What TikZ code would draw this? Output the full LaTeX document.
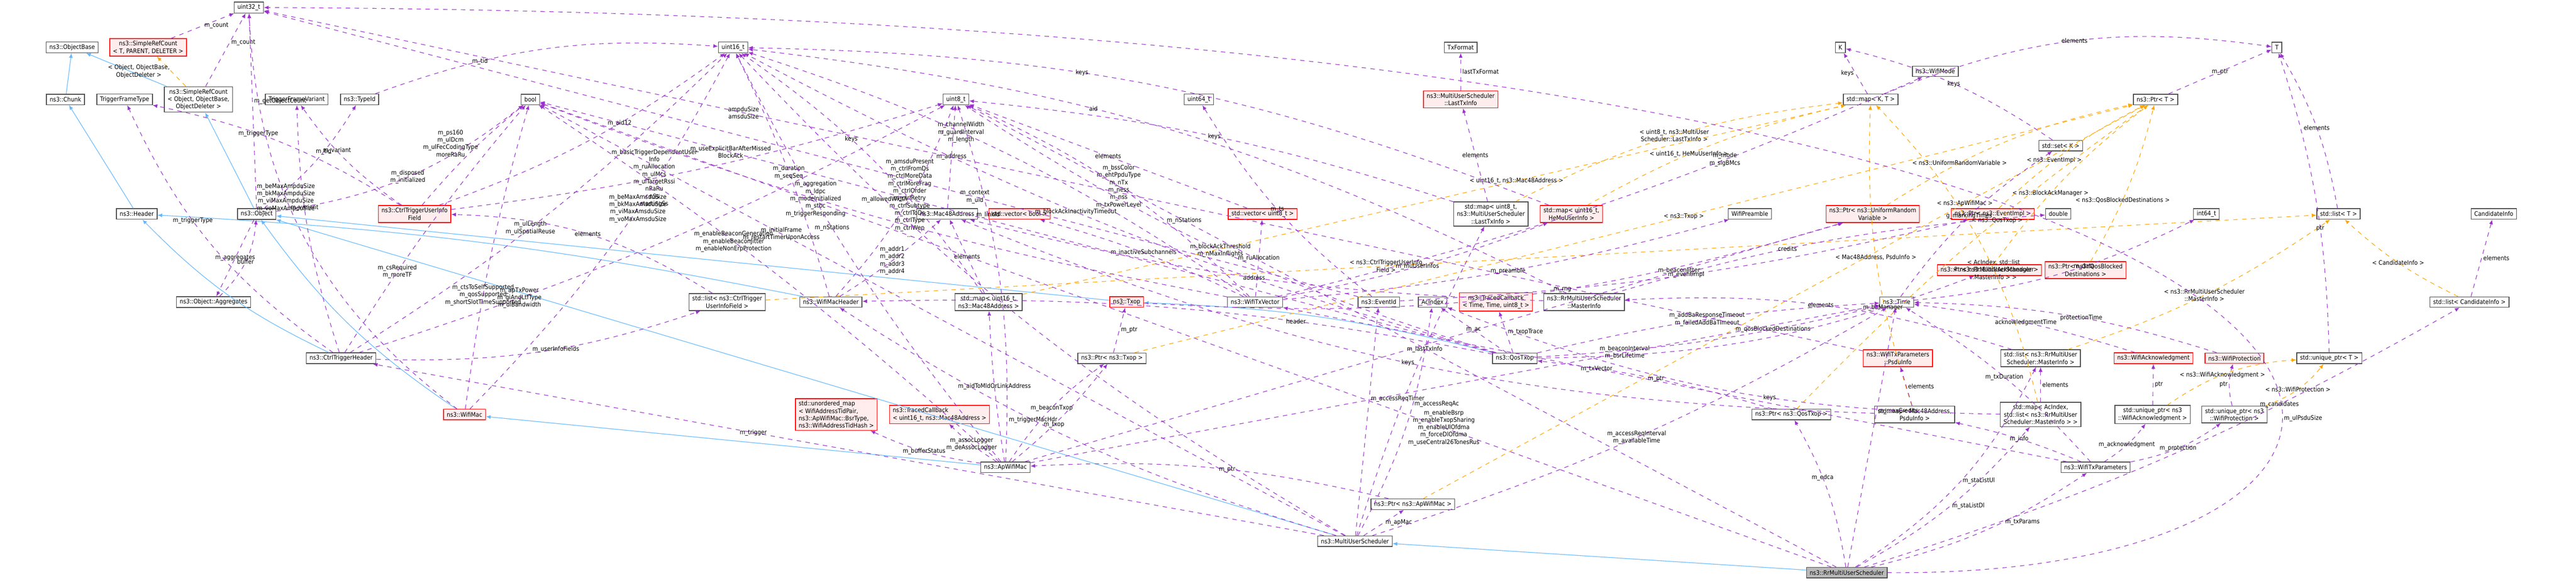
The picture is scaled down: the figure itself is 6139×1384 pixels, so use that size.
\documentclass[tikz,border=0pt]{standalone}
\usepackage{fontspec}
\setmainfont{DejaVu Sans Condensed}
\usetikzlibrary{arrows.meta}
\definecolor{mempurple}{HTML}{9A32CD}
\definecolor{inhblue}{HTML}{63B8FF}
\definecolor{tplorange}{HTML}{FFA500}
\begin{document}
\begin{tikzpicture}[x=0.01cm,y=-0.01cm,
  font=\fontsize{4.2}{5}\selectfont,
  cls/.style={draw=gray!60!black,fill=white,line width=0.5pt,inner xsep=2.2pt,inner ysep=1.6pt,minimum height=0.25cm,align=center},
  redcls/.style={cls,draw=red,fill=red!7},
  focus/.style={cls,fill=gray!55},
  mem/.style={draw=mempurple,dashed,line width=0.4pt,-{Latex[length=3.2pt,width=2.6pt]}},
  inh/.style={draw=inhblue,line width=0.4pt,-{Latex[length=3.2pt,width=2.6pt,open,fill=inhblue]}},
  tpl/.style={draw=tplorange,dashed,line width=0.4pt,-{Latex[length=3.2pt,width=2.6pt]}},
  lbl/.style={fill=none,align=center,inner sep=1pt}]
\useasboundingbox (0,0) rectangle (6139,1384);

% Top rows
\node[cls] (u32) at (593,18) {uint32\_t};
\node[cls] (objbase) at (172,113) {ns3::ObjectBase};
\node[redcls] (srcT) at (353,113) {ns3::SimpleRefCount\\< T, PARENT, DELETER >};
\node[cls] (u16) at (1747,113) {uint16\_t};
\node[cls] (txformat) at (3481,113) {TxFormat};
\node[cls] (K) at (4386,113) {K};
\node[cls] (T) at (5426,113) {T};
\node[cls] (wifimode) at (4612,170) {ns3::WifiMode};

\node[cls] (chunk) at (156,237) {ns3::Chunk};
\node[cls] (tft) at (297,237) {TriggerFrameType};
\node[cls] (srcObj) at (473,237) {ns3::SimpleRefCount\\< Object, ObjectBase,\\ObjectDeleter >};
\node[cls] (tfv) at (707,237) {TriggerFrameVariant};
\node[cls] (typeid) at (857,237) {ns3::TypeId};
\node[cls] (bool) at (1264,237) {bool};
\node[cls] (u8) at (2278,237) {uint8\_t};
\node[cls] (u64) at (2857,237) {uint64\_t};
\node[redcls] (lasttx) at (3481,237) {ns3::MultiUserScheduler\\::LastTxInfo};
\node[cls] (mapKT) at (4458,237) {std::map< K, T >};
\node[cls] (ptrT) at (5137,237) {ns3::Ptr< T >};
\node[cls] (setK) at (4911,347) {std::set< K >};

% Middle row
\node[cls] (header) at (326,510) {ns3::Header};
\node[cls] (object) at (612,510) {ns3::Object};
\node[redcls] (ctuif) at (988,510) {ns3::CtrlTriggerUserInfo\\Field};
\node[cls] (mac48) at (2257,510) {ns3::Mac48Address};
\node[redcls] (vecbool) at (2430,510) {std::vector< bool >};
\node[redcls] (vecu8) at (3009,510) {std::vector< uint8\_t >};
\node[cls] (mapLast) at (3553,510) {std::map< uint8\_t,\\ns3::MultiUserScheduler\\::LastTxInfo >};
\node[redcls] (mapHeMu) at (3745,510) {std::map< uint16\_t,\\HeMuUserInfo >};
\node[cls] (preamble) at (4170,510) {WifiPreamble};
\node[redcls] (ptrURV) at (4463,510) {ns3::Ptr< ns3::UniformRandom\\Variable >};
\node[redcls] (ptrEv) at (4749,510) {ns3::Ptr< ns3::EventImpl >};
\node[cls] (double) at (4905,510) {double};
\node[cls] (int64) at (5258,510) {int64\_t};
\node[cls] (listT) at (5573,510) {std::list< T >};
\node[cls] (candinfo) at (5943,510) {CandidateInfo};
\node[redcls] (ptrBAM) at (4741,644) {ns3::Ptr< ns3::BlockAckManager >};
\node[redcls] (ptrQBD) at (4970,644) {ns3::Ptr< ns3::QosBlocked\\Destinations >};

% Lower rows
\node[cls] (aggr) at (509,720) {ns3::Object::Aggregates};
\node[cls] (listCTUIF) at (1733,720) {std::list< ns3::CtrlTrigger\\UserInfoField >};
\node[cls] (machdr) at (1980,720) {ns3::WifiMacHeader};
\node[cls] (mapU16Mac) at (2356,720) {std::map< uint16\_t,\\ns3::Mac48Address >};
\node[redcls] (txop) at (2685,720) {ns3::Txop};
\node[cls] (txvec) at (2991,720) {ns3::WifiTxVector};
\node[cls] (eventid) at (3286,720) {ns3::EventId};
\node[cls] (acindex) at (3414,720) {AcIndex};
\node[redcls] (tcTime) at (3565,720) {ns3::TracedCallback\\< Time, Time, uint8\_t >};
\node[cls] (masterinfo) at (3775,720) {ns3::RrMultiUserScheduler\\::MasterInfo};
\node[cls] (time) at (4520,720) {ns3::Time};
\node[cls] (listCand) at (5885,720) {std::list< CandidateInfo >};

\node[cls] (ctrlhdr) at (813,854) {ns3::CtrlTriggerHeader};
\node[cls] (ptrTxop) at (2650,854) {ns3::Ptr< ns3::Txop >};
\node[cls] (qostxop) at (3610,854) {ns3::QosTxop};
\node[redcls] (psduinfo) at (4523,854) {ns3::WifiTxParameters\\::PsduInfo};
\node[cls] (listMaster) at (4863,854) {std::list< ns3::RrMultiUser\\Scheduler::MasterInfo >};
\node[redcls] (wifiack) at (5132,854) {ns3::WifiAcknowledgment};
\node[redcls] (wifiprot) at (5325,854) {ns3::WifiProtection};
\node[cls] (uptrT) at (5551,854) {std::unique\_ptr< T >};

\node[redcls] (wifimac) at (1107,988) {ns3::WifiMac};
\node[redcls,align=left] (unordmap) at (1993,988) {std::unordered\_map\\< WifiAddressTidPair,\\ ns3::ApWifiMac::BsrType,\\ ns3::WifiAddressTidHash >};
\node[redcls,align=left] (tcU16) at (2239,988) {ns3::TracedCallback\\< uint16\_t, ns3::Mac48Address >};
\node[cls] (ptrQos) at (4269,988) {ns3::Ptr< ns3::QosTxop >};
\node[cls] (mapMacPsdu) at (4563,988) {std::map< Mac48Address,\\PsduInfo >};
\node[cls] (mapAcList) at (4863,988) {std::map< AcIndex,\\std::list< ns3::RrMultiUser\\Scheduler::MasterInfo > >};
\node[cls] (uptrAck) at (5130,988) {std::unique\_ptr< ns3\\::WifiAcknowledgment >};
\node[cls] (uptrProt) at (5325,988) {std::unique\_ptr< ns3\\::WifiProtection >};

\node[cls] (apmac) at (2396,1114) {ns3::ApWifiMac};
\node[cls] (txparams) at (4994,1114) {ns3::WifiTxParameters};
\node[cls] (ptrAp) at (3367,1202) {ns3::Ptr< ns3::ApWifiMac >};
\node[cls] (mus) at (3229,1290) {ns3::MultiUserScheduler};
\node[focus] (rrmus) at (4401,1365) {ns3::RrMultiUserScheduler};

% Inheritance
\draw[inh] (chunk) -- (objbase);
\draw[inh] (srcObj) -- (objbase);
\draw[inh] (header) -- (chunk);
\draw[inh] (object) -- (srcObj);
\draw[inh] (ctrlhdr) to[bend left=10] (header);
\draw[inh] (machdr) to[bend right=4] (header);
\draw[inh] (wifimac) to[bend left=10] (object);
\draw[inh] (txop) -- (object);
\draw[inh] (mus) -- (object);
\draw[inh] (qostxop) to[bend right=6] (txop);
\draw[inh] (apmac) -- (wifimac);
\draw[inh] (rrmus) -- (mus);

% Template instances
\draw[tpl] (srcObj) -- node[lbl,left] {< Object, ObjectBase,\\ObjectDeleter >} (srcT);
\draw[tpl] (mapLast) to[bend left=10] node[lbl] {< uint8\_t, ns3::MultiUser\\Scheduler::LastTxInfo >} (mapKT);
\draw[tpl] (mapHeMu) to[bend left=8] node[lbl,pos=0.4] {< uint16\_t, HeMuUserInfo >} (mapKT);
\draw[tpl] (mapU16Mac) -- node[lbl,pos=0.6] {< uint16\_t, ns3::Mac48Address >} (mapKT);
\draw[tpl] (mapMacPsdu) to[bend left=10] node[lbl,pos=0.5] {< Mac48Address, PsduInfo >} (mapKT);
\draw[tpl] (mapAcList) to[bend right=15] node[lbl,pos=0.4] {< AcIndex, std::list\\< ns3::RrMultiUserScheduler\\::MasterInfo > >} (mapKT);
\draw[tpl] (listCTUIF) -- node[lbl,pos=0.4] {< ns3::CtrlTriggerUserInfo\\Field >} (listT);
\draw[tpl] (listMaster) to[bend right=8] node[lbl,pos=0.5] {< ns3::RrMultiUserScheduler\\::MasterInfo >} (listT);
\draw[tpl] (listCand) to[bend left=8] node[lbl,pos=0.5] {< CandidateInfo >} (listT);
\draw[tpl] (ptrURV) to[bend left=10] node[lbl,pos=0.3] {< ns3::UniformRandomVariable >} (ptrT);
\draw[tpl] (ptrEv) to[bend left=8] node[lbl,pos=0.4] {< ns3::EventImpl >} (ptrT);
\draw[tpl] (ptrBAM) to[bend left=8] node[lbl,pos=0.4] {< ns3::BlockAckManager >} (ptrT);
\draw[tpl] (ptrQBD) to[bend right=8] node[lbl,pos=0.4] {< ns3::QosBlockedDestinations >} (ptrT);
\draw[tpl] (ptrTxop) -- node[lbl,pos=0.55] {< ns3::Txop >} (ptrT);
\draw[tpl] (ptrQos) to[bend left=5] node[lbl,pos=0.6] {< ns3::QosTxop >} (ptrT);
\draw[tpl] (ptrAp) -- node[lbl,pos=0.75] {< ns3::ApWifiMac >} (ptrT);
\draw[tpl] (uptrAck) to[bend left=15] node[lbl,pos=0.45] {< ns3::WifiAcknowledgment >} (uptrT);
\draw[tpl] (uptrProt) to[bend right=15] node[lbl,pos=0.5] {< ns3::WifiProtection >} (uptrT);

% Members: basic classes
\draw[mem] (srcT) -- node[lbl,right] {m\_count} (u32);
\draw[mem] (srcObj) -- node[lbl,pos=0.6,right] {m\_count} (u32);
\draw[mem] (object) -- node[lbl,pos=0.55,right] {m\_getObjectCount} (u32);
\draw[mem] (object) to[bend right=10] node[lbl,pos=0.6] {m\_tid} (typeid);
\draw[mem] (object) to[bend right=15] node[lbl,pos=0.5] {m\_disposed\\m\_initialized} (bool);
\draw[mem] (object) -- node[lbl,pos=0.5] {m\_aggregates} (aggr);
\draw[mem] (aggr) to[bend right=20] node[lbl,pos=0.5] {buffer} (object);
\draw[mem] (typeid) to[bend left=12] node[lbl,pos=0.3] {m\_tid} (u16);
\draw[mem] (ctuif) to[bend left=10] node[lbl,pos=0.6] {m\_variant} (tfv);
\draw[mem] (ctuif) to[bend right=10] node[lbl,pos=0.6] {m\_triggerType} (tft);
\draw[mem] (ctuif) to[bend left=5] node[lbl,pos=0.6,left] {m\_ps160\\m\_ulDcm\\m\_ulFecCodingType\\moreRaRu} (bool);
\draw[mem] (ctuif) to[bend right=8] node[lbl,pos=0.62] {m\_aid12} (u16);
\draw[mem] (ctuif) to[bend right=5] node[lbl,pos=0.4] {m\_basicTriggerDependentUser\\Info\\m\_ruAllocation\\m\_ulMcs\\m\_ulTargetRssi\\nRaRu\\nSs\\startingSs} (u8);
\draw[mem] (ctrlhdr) to[bend left=15] node[lbl,pos=0.6] {m\_triggerType} (tft);
\draw[mem] (ctrlhdr) to[bend left=8] node[lbl,pos=0.6] {m\_variant} (tfv);
\draw[mem] (ctrlhdr) to[bend right=6] node[lbl,pos=0.45] {m\_ulLength\\m\_ulSpatialReuse} (u16);
\draw[mem] (ctrlhdr) to[bend left=4] node[lbl,pos=0.3] {m\_csRequired\\m\_moreTF} (bool);
\draw[mem] (ctrlhdr) to[bend right=5] node[lbl,pos=0.25] {m\_apTxPower\\m\_giAndLtfType\\m\_ulBandwidth} (u8);
\draw[mem] (ctrlhdr) to[bend right=10] node[lbl,pos=0.55] {m\_userInfoFields} (listCTUIF);
\draw[mem] (listCTUIF) to[bend right=15] node[lbl,pos=0.5] {elements} (ctuif);
\draw[mem] (wifimac) to[bend left=25] node[lbl,pos=0.6] {m\_beMaxAmpduSize\\m\_bkMaxAmpduSize\\m\_viMaxAmpduSize\\m\_voMaxAmpduSize} (u32);
\draw[mem] (wifimac) to[bend right=8] node[lbl,pos=0.6] {m\_beMaxAmsduSize\\m\_bkMaxAmsduSize\\m\_viMaxAmsduSize\\m\_voMaxAmsduSize} (u16);
\draw[mem] (wifimac) to[bend left=4] node[lbl,pos=0.36] {m\_ctsToSelfSupported\\m\_qosSupported\\m\_shortSlotTimeSupported} (bool);
\draw[mem] (machdr) to[bend right=5] node[lbl,pos=0.5] {m\_duration\\m\_seqSeq} (u16);
\draw[mem] (machdr) to[bend right=10] node[lbl,pos=0.55] {m\_amsduPresent\\m\_ctrlFromDs\\m\_ctrlMoreData\\m\_ctrlMoreFrag\\m\_ctrlOrder\\m\_ctrlRetry\\m\_ctrlSubtype\\m\_ctrlToDs\\m\_ctrlType\\m\_ctrlWep\\...} (u8);
\draw[mem] (machdr) to[bend right=5] node[lbl,pos=0.5] {m\_addr1\\m\_addr2\\m\_addr3\\m\_addr4} (mac48);
\draw[mem] (mac48) -- node[lbl,pos=0.5] {m\_address} (u8);
\draw[mem] (mapU16Mac) -- node[lbl,pos=0.5] {elements} (mac48);
\draw[mem] (mapU16Mac) to[bend right=10] node[lbl,pos=0.6] {keys} (u16);
\draw[mem] (mapHeMu) to[bend right=10] node[lbl,pos=0.6] {keys} (u16);
\draw[mem] (mapLast) to[bend right=6] node[lbl,pos=0.5] {keys} (u8);
\draw[mem] (mapLast) -- node[lbl,pos=0.5] {elements} (lasttx);
\draw[mem] (lasttx) -- node[lbl,right] {lastTxFormat} (txformat);

% Members: tx vector, events, time
\draw[mem] (txvec) to[bend right=8] node[lbl,pos=0.6] {m\_channelWidth\\m\_guardInterval\\m\_length} (u16);
\draw[mem] (txvec) to[bend right=10] node[lbl,pos=0.5] {m\_bssColor\\m\_ehtPpduType\\m\_nTx\\m\_ness\\m\_nss\\m\_txPowerLevel} (u8);
\draw[mem] (txvec) to[bend left=5] node[lbl,pos=0.6] {m\_aggregation\\m\_ldpc\\m\_modeInitialized\\m\_stbc\\m\_triggerResponding} (bool);
\draw[mem] (txvec) to[bend right=5] node[lbl,pos=0.5] {m\_inactiveSubchannels} (vecbool);
\draw[mem] (txvec) -- node[lbl,pos=0.5] {m\_ruAllocation} (vecu8);
\draw[mem] (txvec) to[bend right=5] node[lbl,pos=0.5] {m\_muUserInfos} (mapHeMu);
\draw[mem] (txvec) to[bend right=5] node[lbl,pos=0.5] {m\_preamble} (preamble);
\draw[mem] (txvec) to[bend right=5] node[lbl,pos=0.7] {m\_mode\\m\_sigBMcs} (wifimode);
\draw[mem] (vecu8) -- node[lbl,pos=0.5] {elements} (u8);
\draw[mem] (eventid) to[bend right=5] node[lbl,pos=0.5] {m\_eventImpl} (ptrEv);
\draw[mem] (eventid) -- node[lbl,pos=0.35] {m\_context\\m\_uid} (u32);
\draw[mem] (eventid) to[bend left=10] node[lbl,pos=0.5] {m\_ts} (u64);
\draw[mem] (time) to[bend right=10] node[lbl,pos=0.6] {m\_data} (int64);
\draw[mem] (time) to[bend left=10] node[lbl,pos=0.5] {g\_markingTimes} (setK);
\draw[mem] (setK) to[bend right=10] node[lbl,pos=0.5] {keys} (K);
\draw[mem] (mapKT) -- node[lbl,left] {keys} (K);
\draw[mem] (mapKT) to[bend left=15] node[lbl,pos=0.5] {elements} (T);
\draw[mem] (ptrT) -- node[lbl,pos=0.5] {m\_ptr} (T);
\draw[mem] (listT) to[bend right=10] node[lbl,pos=0.5] {elements} (T);
\draw[mem] (uptrT) to[bend right=8] node[lbl,pos=0.4] {ptr} (T);
\draw[mem] (masterinfo) to[bend right=10] node[lbl,pos=0.6] {aid} (u16);
\draw[mem] (masterinfo) to[bend left=6] node[lbl,pos=0.5] {address} (mac48);
\draw[mem] (masterinfo) to[bend left=6] node[lbl,pos=0.4] {credits} (double);

% Members: access point and queues
\draw[mem] (apmac) to[bend left=10] node[lbl,pos=0.5] {m\_beaconTxop} (ptrTxop);
\draw[mem] (apmac) to[bend right=6] node[lbl,pos=0.4] {m\_txop} (ptrTxop);
\draw[mem] (apmac) to[bend right=4] node[lbl,pos=0.6] {m\_enableBeaconGeneration\\m\_enableBeaconJitter\\m\_enableNonErpProtection} (bool);
\draw[mem] (apmac) to[bend left=6] node[lbl,pos=0.6] {m\_nStations} (u16);
\draw[mem] (apmac) to[bend left=8] node[lbl,pos=0.5] {m\_bufferStatus} (unordmap);
\draw[mem] (apmac) to[bend left=6] node[lbl,pos=0.5] {m\_assocLogger\\m\_deAssocLogger} (tcU16);
\draw[mem] (apmac) to[bend left=3] node[lbl,pos=0.5] {m\_aidToMldOrLinkAddress} (mapU16Mac);
\draw[mem] (apmac) to[bend right=10] node[lbl,pos=0.7] {m\_linkId} (u8);
\draw[mem] (apmac) -- node[lbl,pos=0.7] {m\_beaconInterval\\m\_bsrLifetime} (time);
\draw[mem] (apmac) -- node[lbl,pos=0.8] {m\_beaconJitter} (ptrURV);
\draw[mem] (ptrTxop) -- node[lbl,right] {m\_ptr} (txop);
\draw[mem] (txop) to[bend right=10] node[lbl,pos=0.6] {m\_rng} (ptrURV);
\draw[mem] (qostxop) -- node[lbl,pos=0.5] {m\_ac} (acindex);
\draw[mem] (qostxop) -- node[lbl,right] {m\_txopTrace} (tcTime);
\draw[mem] (qostxop) to[bend right=10] node[lbl,pos=0.8] {m\_baManager} (ptrBAM);
\draw[mem] (qostxop) to[bend right=5] node[lbl,pos=0.7] {m\_qosBlockedDestinations} (time);
\draw[mem] (qostxop) to[bend left=5] node[lbl,pos=0.5] {m\_addBaResponseTimeout\\m\_failedAddBaTimeout} (time);
\draw[mem] (qostxop) to[bend left=8] node[lbl,pos=0.5] {m\_blockAckThreshold\\m\_nMaxInflights} (u8);
\draw[mem] (qostxop) to[bend left=6] node[lbl,pos=0.55] {m\_blockAckInactivityTimeout} (u16);
\draw[mem] (qostxop) -- node[lbl,pos=0.8] {m\_useExplicitBarAfterMissed\\BlockAck} (bool);
\draw[mem] (qostxop) to[bend right=6] node[lbl,pos=0.3] {header} (machdr);

% Members: schedulers
\draw[mem] (mus) to[bend left=5] node[lbl,pos=0.6] {m\_lastTxInfo} (mapLast);
\draw[mem] (mus) -- node[lbl,pos=0.6,right] {m\_accessReqTimer} (eventid);
\draw[mem] (mus) to[bend right=10] node[lbl,pos=0.6,right] {m\_accessReqAc} (acindex);
\draw[mem] (mus) -- node[lbl,right] {m\_apMac} (ptrAp);
\draw[mem] (ptrAp) to[bend right=8] node[lbl,pos=0.45] {m\_ptr} (apmac);
\draw[mem] (mus) -- node[lbl,pos=0.6] {m\_trigger} (ctrlhdr);
\draw[mem] (mus) to[bend left=8] node[lbl,pos=0.6] {m\_triggerMacHdr} (machdr);
\draw[mem] (mus) to[bend left=8] node[lbl,pos=0.75] {m\_allowedWidth} (u16);
\draw[mem] (mus) -- node[lbl,pos=0.7] {m\_initialFrame\\m\_restartTimerUponAccess} (bool);
\draw[mem] (mus) to[bend right=6] node[lbl,pos=0.5] {m\_accessReqInterval\\m\_availableTime} (time);
\draw[mem] (rrmus) to[bend right=10] node[lbl,pos=0.6] {m\_edca} (ptrQos);
\draw[mem] (ptrQos) to[bend right=5] node[lbl,pos=0.5] {m\_ptr} (qostxop);
\draw[mem] (rrmus) -- node[lbl,pos=0.6,right] {m\_maxCredits} (time);
\draw[mem] (rrmus) to[bend right=15] node[lbl,pos=0.5,right] {m\_staListUl} (listMaster);
\draw[mem] (rrmus) to[bend right=10] node[lbl,pos=0.5,right] {m\_staListDl} (mapAcList);
\draw[mem] (rrmus) to[bend right=10] node[lbl,pos=0.6,right] {m\_txParams} (txparams);
\draw[mem] (rrmus) to[bend right=6] node[lbl,pos=0.7] {m\_candidates} (listCand);
\draw[mem] (rrmus) -- node[lbl,pos=0.3] {m\_enableBsrp\\m\_enableTxopSharing\\m\_enableUlOfdma\\m\_forceDlOfdma\\m\_useCentral26TonesRus} (bool);
\draw[mem] (rrmus) -- node[lbl,pos=0.75] {m\_nStations} (u8);
\draw[mem] (rrmus.east) .. controls (6120,1380) and (6120,40) .. node[lbl,pos=0.35,right] {m\_ulPsduSize} (u32.east);
\draw[mem] (mapAcList) -- node[lbl,right] {elements} (listMaster);
\draw[mem] (mapAcList) to[bend left=10] node[lbl,pos=0.4] {keys} (acindex);
\draw[mem] (listMaster) to[bend right=10] node[lbl,pos=0.5] {elements} (masterinfo);
\draw[mem] (listCand) -- node[lbl,right] {elements} (candinfo);

% Members: tx parameters
\draw[mem] (txparams) to[bend right=5] node[lbl,pos=0.5] {m\_info} (mapMacPsdu);
\draw[mem] (txparams) to[bend right=10] node[lbl,pos=0.5] {m\_acknowledgment} (uptrAck);
\draw[mem] (txparams) to[bend right=12] node[lbl,pos=0.5] {m\_protection} (uptrProt);
\draw[mem] (txparams) -- node[lbl,pos=0.6] {m\_txVector} (txvec);
\draw[mem] (txparams) to[bend right=8] node[lbl,pos=0.5] {m\_txDuration} (time);
\draw[mem] (mapMacPsdu) -- node[lbl,right] {elements} (psduinfo);
\draw[mem] (mapMacPsdu) to[bend left=10] node[lbl,pos=0.5] {keys} (mac48);
\draw[mem] (psduinfo) -- node[lbl,pos=0.7] {ampduSize\\amsduSize} (u32);
\draw[mem] (uptrAck) -- node[lbl,right] {ptr} (wifiack);
\draw[mem] (uptrProt) to[bend left=15] node[lbl,left] {ptr} (wifiprot);
\draw[mem] (wifiack) to[bend right=5] node[lbl,pos=0.5] {acknowledgmentTime} (time);
\draw[mem] (wifiprot) to[bend right=8] node[lbl,pos=0.45] {protectionTime} (time);
\end{tikzpicture}
\end{document}
